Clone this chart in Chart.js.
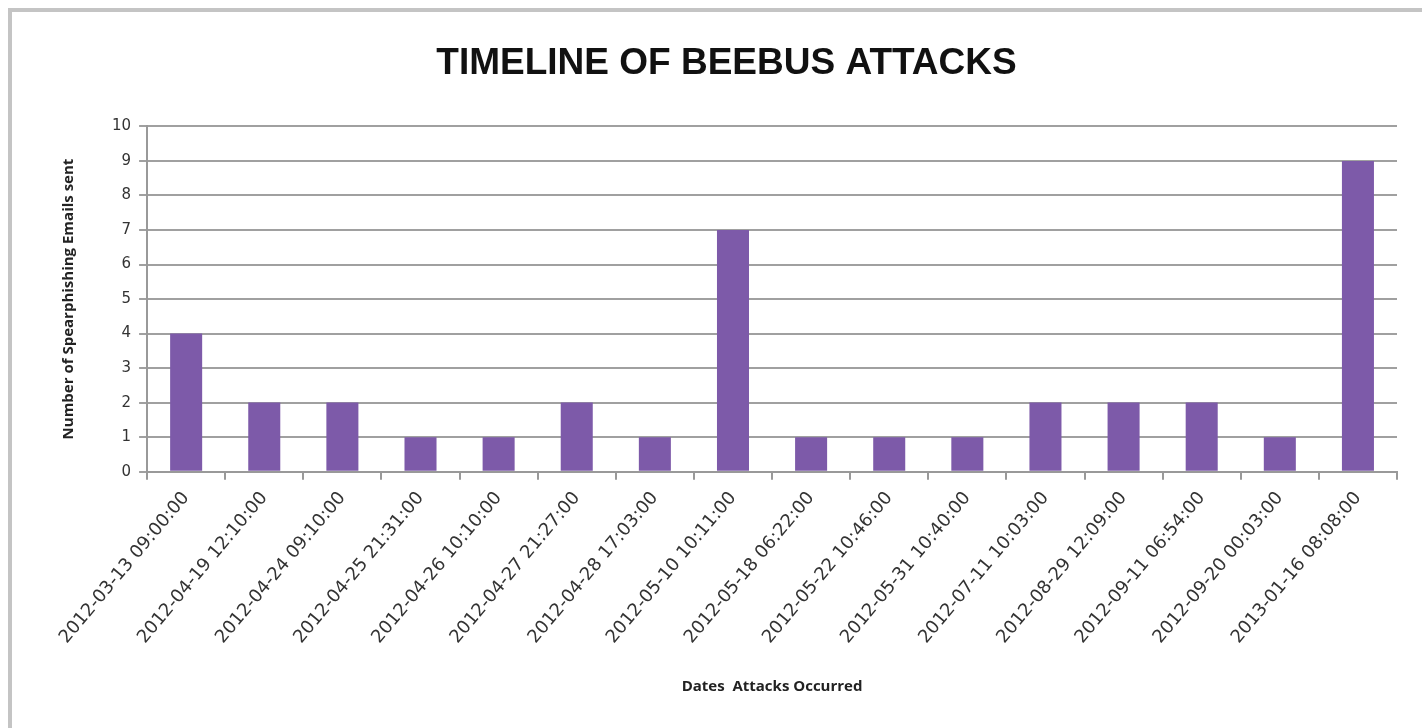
<!DOCTYPE html>
<html>
<head>
<meta charset="utf-8">
<script src="https://cdn.jsdelivr.net/npm/chart.js@4"></script>
<style>
  body { margin: 0; background: #fff; }
  #frame { position: absolute; left: 8px; top: 8px; width: 1414px; height: 720px;
           border-left: 4px solid #c4c4c4; border-top: 4px solid #c4c4c4; box-sizing: border-box; }
  #wrap { position: absolute; left: 0; top: 0; width: 1422px; height: 728px; }
</style>
</head>
<body>
<div id="frame"></div>
<div id="wrap"><canvas id="chart"></canvas></div>
<script>
const dates = [
  '2012-03-13 09:00:00', '2012-04-19 12:10:00', '2012-04-24 09:10:00', '2012-04-25 21:31:00',
  '2012-04-26 10:10:00', '2012-04-27 21:27:00', '2012-04-28 17:03:00', '2012-05-10 10:11:00',
  '2012-05-18 06:22:00', '2012-05-22 10:46:00', '2012-05-31 10:40:00', '2012-07-11 10:03:00',
  '2012-08-29 12:09:00', '2012-09-11 06:54:00', '2012-09-20 00:03:00', '2013-01-16 08:08:00'
];
const emailsSent = [4, 2, 2, 1, 1, 2, 1, 7, 1, 1, 1, 2, 2, 2, 1, 9];

const ctx = document.getElementById('chart').getContext('2d');

const chart = new Chart(ctx, {
  type: 'bar',
  data: {
    labels: dates,
    datasets: [{
      label: 'Emails',
      data: emailsSent,
      backgroundColor: '#7d5aa9',
      barPercentage: 0.41,
      categoryPercentage: 1
    }]
  },
  options: {
    responsive: true,
    maintainAspectRatio: false,
    animation: false,
    layout: { padding: { top: 36, left: 56, right: 25, bottom: 28 } },
    plugins: {
      legend: { display: false },
      tooltip: { enabled: false },
      title: {
        display: true,
        text: 'TIMELINE OF BEEBUS ATTACKS',
        color: '#111',
        font: { family: "'Liberation Sans Narrow', 'Liberation Sans', sans-serif", size: 37, weight: 'bold' },
        padding: { top: 6, bottom: 40 }
      }
    },
    scales: {
      x: {
        grid: { offset: true, drawOnChartArea: false, color: '#999', lineWidth: 2, tickLength: 8 },
        border: { color: '#999', width: 2 },
        ticks: {
          color: '#333',
          minRotation: 50,
          maxRotation: 50,
          padding: 8,
          font: { family: 'DejaVu Sans', size: 18 }
        },
        title: {
          display: true,
          text: 'Dates  Attacks Occurred',
          color: '#222',
          font: { family: 'Open Sans', size: 15, weight: 'bold' },
          padding: { top: 22 }
        }
      },
      y: {
        min: 0,
        max: 10,
        grid: { color: '#a0a0a0', lineWidth: 2, tickLength: 8 },
        border: { color: '#999', width: 2 },
        ticks: {
          stepSize: 1,
          color: '#333',
          padding: 8,
          font: { family: 'DejaVu Sans', size: 15 }
        },
        title: {
          display: true,
          text: 'Number of Spearphishing Emails sent',
          color: '#222',
          font: { family: 'Open Sans', size: 15, weight: 'bold' },
          padding: { bottom: 26 }
        }
      }
    }
  }
});
</script>
</body>
</html>
